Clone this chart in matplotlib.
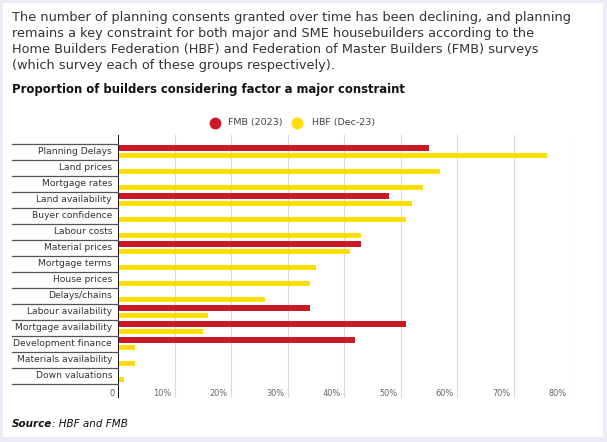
import matplotlib
matplotlib.use("Agg")
import matplotlib.pyplot as plt
from matplotlib.patches import Rectangle
from matplotlib.lines import Line2D
from matplotlib.transforms import blended_transform_factory

categories = ["Planning Delays", "Land prices", "Mortgage rates", "Land availability",
              "Buyer confidence", "Labour costs", "Material prices", "Mortgage terms",
              "House prices", "Delays/chains", "Labour availability", "Mortgage availability",
              "Development finance", "Materials availability", "Down valuations"]
fmb = [55, None, None, 48, None, None, 43, None, None, None, 34, 51, 42, None, None]
hbf = [76, 57, 54, 52, 51, 43, 41, 35, 34, 26, 16, 15, 3, 3, 1]
ticks = [10, 20, 30, 40, 50, 60, 70, 80]
tick_labels = ["10%", "20%", "30%", "40%", "50%", "60%", "70%", "80%"]
series_names = ["FMB (2023)", "HBF (Dec-23)"]

RED = "#C91A25"
YEL = "#FEDD00"
W, H = 607, 442
plt.rcParams['font.family'] = ['DejaVu Sans']

fig = plt.figure(figsize=(W / 100, H / 100), dpi=100)
fig.patch.set_facecolor("#ECECF9")
fig.add_artist(Rectangle((3 / W, 1 - 437 / H), 600 / W, 434 / H, transform=fig.transFigure,
                         facecolor="white", edgecolor="none", zorder=0))
renderer = fig.canvas.get_renderer()

def fx(px):
    return px / W

def fy(py):
    return 1 - py / H

def fit(texts, target_px):
    """scale font size of texts so the first spans target_px"""
    w = texts[0].get_window_extent(renderer=renderer).width
    s = texts[0].get_fontsize() * target_px / w
    for t in texts:
        t.set_fontsize(s)

# axes: x 118..570 px for 0..80, y 135..398 px
ax = fig.add_axes([fx(118), fy(398), (570 - 118) / W, (398 - 135) / H])
ax.set_xlim(0, 80)
ax.set_ylim(15.875, -0.5625)
ax.patch.set_alpha(0)
for s in ax.spines.values():
    s.set_visible(False)
ax.set_xticks([])
ax.set_yticks([])

for t in ticks:
    ax.axvline(t, color="#D9D9DE", lw=0.8, zorder=1)
ax.axvline(0, color="#111111", lw=1.4, zorder=4)

n = len(categories)
for i in range(n):
    if fmb[i] is not None:
        ax.barh(i + 0.27, fmb[i], height=0.37, color=RED, zorder=3, left=0)
    ax.barh(i + 0.72, hbf[i], height=0.37, color=YEL, zorder=3, left=0)

trans = blended_transform_factory(fig.transFigure, ax.transData)
for i in range(n + 1):
    fig.add_artist(Line2D([fx(12), fx(118)], [i, i], transform=trans, color="#555555", lw=0.9))
cat_texts = []
for i, c in enumerate(categories):
    t = fig.text(fx(112), i + 0.5, c, transform=trans, ha="right", va="center", fontsize=7,
                 color="#333333")
    cat_texts.append(t)
dev = cat_texts[categories.index("Development finance")]
fit([dev] + [t for t in cat_texts if t is not dev], 98)

# tick labels
ty = fy(393)
tl = [fig.text(fx(115), ty, "0", ha="right", va="center", fontsize=6.3, color="#555555")]
for t, lab in zip(ticks, tick_labels):
    xp = 118 + t * (570 - 118) / 80 - 3
    tl.append(fig.text(fx(xp), ty, lab, ha="right", va="center", fontsize=6.3, color="#666666"))
fit([tl[1]] + tl, 18)

# legend
ly = fy(123)
fig.add_artist(Line2D([fx(215)], [ly], marker="o", markersize=7.5, color=RED, transform=fig.transFigure))
l1 = fig.text(fx(228), ly, series_names[0], ha="left", va="center", fontsize=7, color="#444444")
fig.add_artist(Line2D([fx(297)], [ly], marker="o", markersize=7.5, color=YEL, transform=fig.transFigure))
l2 = fig.text(fx(312), ly, series_names[1], ha="left", va="center", fontsize=7, color="#444444")
fit([l1, l2], 55)

para = ["The number of planning consents granted over time has been declining, and planning",
        "remains a key constraint for both major and SME housebuilders according to the",
        "Home Builders Federation (HBF) and Federation of Master Builders (FMB) surveys",
        "(which survey each of these groups respectively)."]
ptexts = []
for k, line in enumerate(para):
    ptexts.append(fig.text(fx(12), fy(17 + 16 * k), line, ha="left", va="center",
                           fontsize=8.7, color="#333333"))
fit(ptexts, 562)

st = fig.text(fx(12), fy(90), "Proportion of builders considering factor a major constraint",
              ha="left", va="center", fontsize=8.0, fontweight="bold", color="#111111")
fit([st], 391)

t1 = fig.text(fx(12), fy(424), "Source", ha="left", va="center", fontsize=7.5,
              fontweight="bold", fontstyle="italic", color="#111111")
bb = t1.get_window_extent(renderer=renderer)
t2 = fig.text(bb.x1 / W, fy(424), ": HBF and FMB", ha="left", va="center", fontsize=7.5,
              fontstyle="italic", color="#111111")

fig.savefig("out.png", dpi=100, facecolor=fig.get_facecolor())
